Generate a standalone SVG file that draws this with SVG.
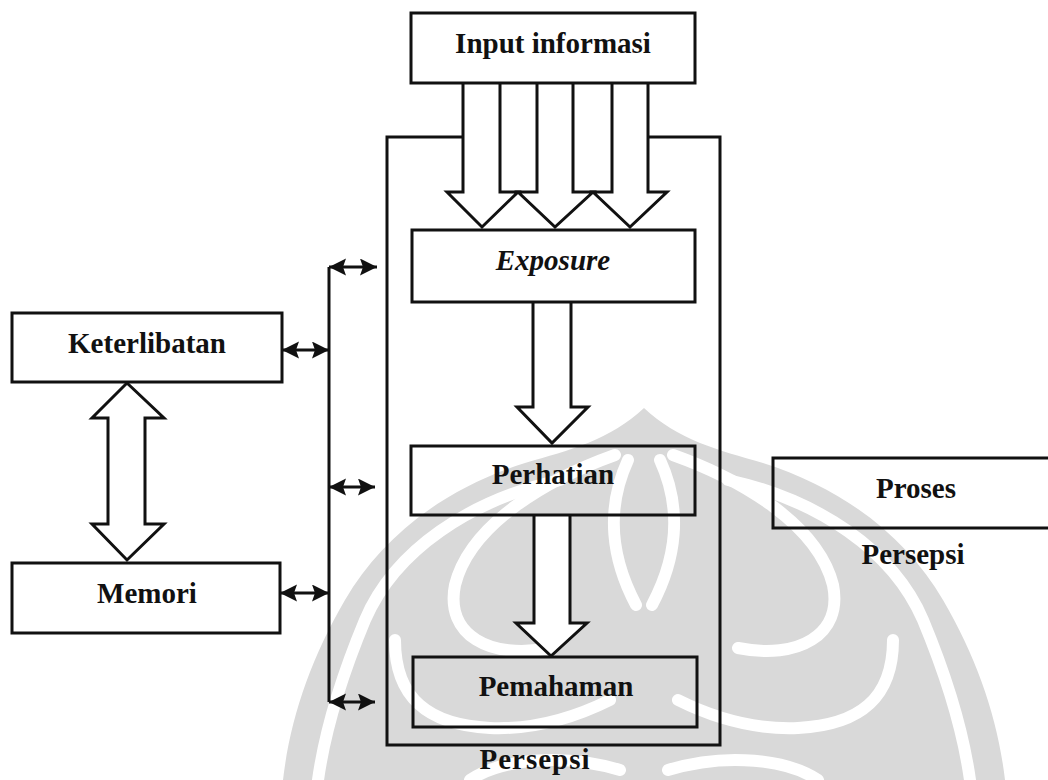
<svg xmlns="http://www.w3.org/2000/svg" width="1048" height="780" viewBox="0 0 1048 780">
  <defs>
    <style>
      .box{fill:none;stroke:#111;stroke-width:3}
      .blk{fill:#fff;stroke:#111;stroke-width:3;stroke-linejoin:miter}
      .link{fill:none;stroke:#111;stroke-width:3}
      .lbl{font-family:"Liberation Serif","Times New Roman",serif;font-weight:bold;font-size:29px;fill:#111;text-anchor:middle}
      .wm{fill:#d9d9d9}
      .gap{fill:none;stroke:#fff;stroke-width:12;stroke-linecap:round}
    </style>
    <marker id="ah" markerUnits="userSpaceOnUse" markerWidth="18" markerHeight="18" refX="17" refY="8.5" orient="auto-start-reverse">
      <path d="M0,0 L17,8.5 L0,17 L3,8.5 z" fill="#111"/>
    </marker>
    <g id="wmHalf">
      <path class="wm" d="M644,408 C610,440 570,450 525,463 C440,490 380,540 345,600 C310,660 290,720 283,780 L644,780 Z"/>
      <path class="gap" d="M560,480 C470,500 395,550 365,620 C340,680 325,730 318,780"/>
      <path class="gap" d="M615,455 C545,480 470,525 455,585 C445,635 490,660 550,648"/>
      <path class="gap" d="M395,640 C395,700 430,725 490,728 C540,730 580,715 610,700"/>
      <path class="gap" d="M628,460 C605,510 612,560 636,605"/>
      <path class="gap" d="M470,780 C500,760 560,752 620,770"/>
    </g>
  </defs>
  <rect width="1048" height="780" fill="#fff"/>

  <!-- faint emblem in the background -->
  <g id="watermark">
    <use href="#wmHalf"/>
    <use href="#wmHalf" transform="translate(1288,0) scale(-1,1)"/>
  </g>

  <!-- perception frame -->
  <g id="persepsi-frame">
    <path class="box" d="M463,137 L387,137 L387,745 L720,745 L720,137 L648,137"/>
    <text class="lbl" x="535" y="769" style="letter-spacing:1px">Persepsi</text>
  </g>

  <g id="connectors">
    <!-- input flows into exposure -->
    <path class="blk" d="M463,83 L463,192 L447,192 L482,227 L518,192 L500,192 L500,83"/>
    <path class="blk" d="M537,83 L537,192 L518,192 L555,227 L593,192 L573,192 L573,83"/>
    <path class="blk" d="M612,83 L612,192 L593,192 L630,227 L667,192 L648,192 L648,83"/>
    <!-- exposure to attention -->
    <path class="blk" d="M533,302 L533,407 L517,407 L552,443 L588,407 L571,407 L571,302"/>
    <!-- attention to comprehension -->
    <path class="blk" d="M534,515 L534,623 L516,623 L551,656 L587,623 L570,623 L570,515"/>
    <!-- involvement and memory -->
    <path class="blk" d="M127,383 L164,418 L145,418 L145,524 L164,524 L127,560 L92,524 L108,524 L108,418 L92,418 Z"/>
    <!-- shared bus and its two-way links -->
    <path class="link" d="M329,267 L329,702"/>
    <line class="link" x1="329" y1="267" x2="377" y2="267" marker-start="url(#ah)" marker-end="url(#ah)"/>
    <line class="link" x1="282" y1="350" x2="329" y2="350" marker-start="url(#ah)" marker-end="url(#ah)"/>
    <line class="link" x1="329" y1="487" x2="375" y2="487" marker-start="url(#ah)" marker-end="url(#ah)"/>
    <line class="link" x1="280" y1="593" x2="329" y2="593" marker-start="url(#ah)" marker-end="url(#ah)"/>
    <line class="link" x1="329" y1="702" x2="375" y2="702" marker-start="url(#ah)" marker-end="url(#ah)"/>
  </g>

  <g id="input-informasi">
    <rect class="box" x="411" y="13" width="284" height="70"/>
    <text class="lbl" x="553" y="53">Input informasi</text>
  </g>
  <g id="exposure">
    <rect class="box" x="412" y="230" width="283" height="72"/>
    <text class="lbl" x="553" y="270" font-style="italic">Exposure</text>
  </g>
  <g id="perhatian">
    <rect class="box" x="411" y="446" width="284" height="69"/>
    <text class="lbl" x="553" y="484">Perhatian</text>
  </g>
  <g id="pemahaman">
    <rect class="box" x="413" y="657" width="284" height="70"/>
    <text class="lbl" x="556" y="696">Pemahaman</text>
  </g>
  <g id="keterlibatan">
    <rect class="box" x="12" y="313" width="270" height="69"/>
    <text class="lbl" x="147" y="353">Keterlibatan</text>
  </g>
  <g id="memori">
    <rect class="box" x="12" y="563" width="268" height="70"/>
    <text class="lbl" x="147" y="603">Memori</text>
  </g>
  <g id="proses-persepsi">
    <path class="box" d="M1050,458 L773,458 L773,528 L1050,528"/>
    <text class="lbl" x="916" y="498">Proses</text>
    <text class="lbl" x="913" y="564">Persepsi</text>
  </g>
</svg>
